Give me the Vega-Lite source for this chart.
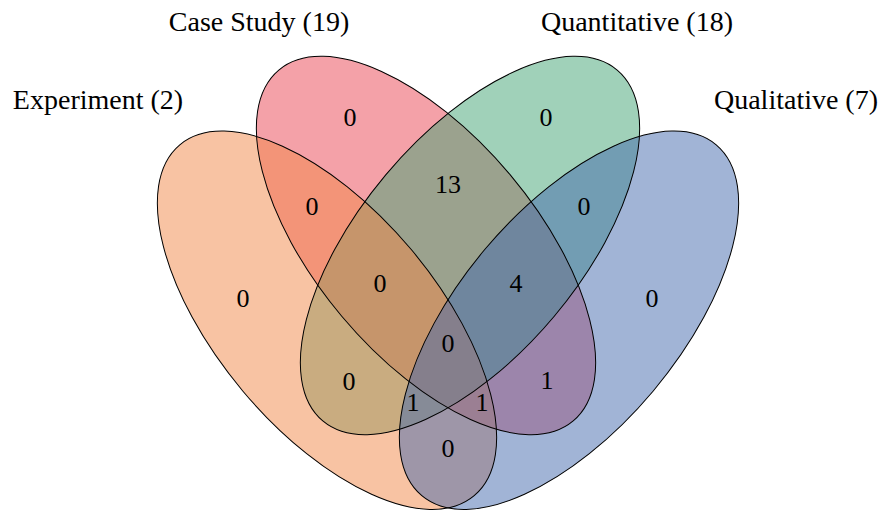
{
  "$schema": "https://vega.github.io/schema/vega-lite/v6.json",
  "width": 883,
  "height": 511,
  "autosize": {"type": "fit", "contains": "padding"},
  "padding": 0,
  "background": "white",
  "config": {"view": {"stroke": null}},
  "datasets": {
    "sets": [
      {"set": "Experiment", "cx": 327, "cy": 321.5},
      {"set": "Case Study", "cx": 426, "cy": 246.5},
      {"set": "Quantitative", "cx": 470, "cy": 246.5},
      {"set": "Qualitative", "cx": 569, "cy": 321.5}
    ],
    "titles": [
      {"label": "Experiment (2)", "lx": 98, "ly": 109},
      {"label": "Case Study (19)", "lx": 259, "ly": 31},
      {"label": "Quantitative (18)", "lx": 637, "ly": 31},
      {"label": "Qualitative (7)", "lx": 796, "ly": 109}
    ],
    "regions": [
      {"region": "Experiment only", "count": 0, "rx": 243, "ry": 300},
      {"region": "Case Study only", "count": 0, "rx": 350, "ry": 118},
      {"region": "Quantitative only", "count": 0, "rx": 546, "ry": 118},
      {"region": "Qualitative only", "count": 0, "rx": 652, "ry": 300},
      {"region": "Experiment & Case Study", "count": 0, "rx": 312, "ry": 208},
      {"region": "Case Study & Quantitative", "count": 13, "rx": 448, "ry": 186},
      {"region": "Quantitative & Qualitative", "count": 0, "rx": 584, "ry": 208},
      {"region": "Experiment & Case Study & Quantitative", "count": 0, "rx": 380, "ry": 285},
      {"region": "Case Study & Quantitative & Qualitative", "count": 4, "rx": 516, "ry": 285},
      {"region": "All four", "count": 0, "rx": 448, "ry": 345},
      {"region": "Experiment & Quantitative", "count": 0, "rx": 349, "ry": 383},
      {"region": "Case Study & Qualitative", "count": 1, "rx": 547, "ry": 382},
      {"region": "Experiment & Quantitative & Qualitative", "count": 1, "rx": 413, "ry": 405},
      {"region": "Experiment & Case Study & Qualitative", "count": 1, "rx": 482, "ry": 405},
      {"region": "Experiment & Qualitative", "count": 0, "rx": 448, "ry": 451}
    ]
  },
  "layer": [
    {
      "data": {"name": "sets"},
      "transform": [{"filter": "datum.set == 'Case Study'"}],
      "mark": {"type": "point", "filled": true, "shape": "M -229 0 A 229 110 0 1 0 229 0 A 229 110 0 1 0 -229 0 Z", "size": 4, "angle": 50, "fillOpacity": 0.5, "opacity": 1, "strokeWidth": 0},
      "encoding": {
        "x": {"field": "cx", "type": "quantitative", "scale": {"domain": [0, 883], "nice": false, "zero": false}, "axis": null},
        "y": {"field": "cy", "type": "quantitative", "scale": {"domain": [0, 511], "nice": false, "zero": false, "reverse": true}, "axis": null},
        "fill": {"field": "set", "type": "nominal", "scale": {"domain": ["Experiment", "Case Study", "Quantitative", "Qualitative"], "range": ["#F18747", "#E94351", "#41A373", "#4369AD"]}, "legend": null}
      }
    },
    {
      "data": {"name": "sets"},
      "transform": [{"filter": "datum.set == 'Quantitative'"}],
      "mark": {"type": "point", "filled": true, "shape": "M -229 0 A 229 110 0 1 0 229 0 A 229 110 0 1 0 -229 0 Z", "size": 4, "angle": 310, "fillOpacity": 0.5, "opacity": 1, "strokeWidth": 0},
      "encoding": {
        "x": {"field": "cx", "type": "quantitative"},
        "y": {"field": "cy", "type": "quantitative"},
        "fill": {"field": "set", "type": "nominal"}
      }
    },
    {
      "data": {"name": "sets"},
      "transform": [{"filter": "datum.set == 'Experiment'"}],
      "mark": {"type": "point", "filled": true, "shape": "M -229 0 A 229 110 0 1 0 229 0 A 229 110 0 1 0 -229 0 Z", "size": 4, "angle": 50, "fillOpacity": 0.5, "opacity": 1, "strokeWidth": 0},
      "encoding": {
        "x": {"field": "cx", "type": "quantitative"},
        "y": {"field": "cy", "type": "quantitative"},
        "fill": {"field": "set", "type": "nominal"}
      }
    },
    {
      "data": {"name": "sets"},
      "transform": [{"filter": "datum.set == 'Qualitative'"}],
      "mark": {"type": "point", "filled": true, "shape": "M -229 0 A 229 110 0 1 0 229 0 A 229 110 0 1 0 -229 0 Z", "size": 4, "angle": 310, "fillOpacity": 0.5, "opacity": 1, "strokeWidth": 0},
      "encoding": {
        "x": {"field": "cx", "type": "quantitative"},
        "y": {"field": "cy", "type": "quantitative"},
        "fill": {"field": "set", "type": "nominal"}
      }
    },
    {
      "data": {"name": "sets"},
      "transform": [{"filter": "datum.cx < 448"}],
      "mark": {"type": "point", "filled": false, "shape": "M -229 0 A 229 110 0 1 0 229 0 A 229 110 0 1 0 -229 0 Z", "size": 4, "angle": 50, "opacity": 1, "fill": null, "stroke": "black", "strokeWidth": 1},
      "encoding": {
        "x": {"field": "cx", "type": "quantitative"},
        "y": {"field": "cy", "type": "quantitative"}
      }
    },
    {
      "data": {"name": "sets"},
      "transform": [{"filter": "datum.cx > 448"}],
      "mark": {"type": "point", "filled": false, "shape": "M -229 0 A 229 110 0 1 0 229 0 A 229 110 0 1 0 -229 0 Z", "size": 4, "angle": 310, "opacity": 1, "fill": null, "stroke": "black", "strokeWidth": 1},
      "encoding": {
        "x": {"field": "cx", "type": "quantitative"},
        "y": {"field": "cy", "type": "quantitative"}
      }
    },
    {
      "data": {"name": "regions"},
      "mark": {"type": "text", "font": "Liberation Serif", "fontSize": 26, "color": "black", "align": "center", "baseline": "middle"},
      "encoding": {
        "x": {"field": "rx", "type": "quantitative"},
        "y": {"field": "ry", "type": "quantitative"},
        "text": {"field": "count", "type": "quantitative"}
      }
    },
    {
      "data": {"name": "titles"},
      "mark": {"type": "text", "font": "Liberation Serif", "fontSize": 28, "color": "black", "align": "center", "baseline": "alphabetic"},
      "encoding": {
        "x": {"field": "lx", "type": "quantitative"},
        "y": {"field": "ly", "type": "quantitative"},
        "text": {"field": "label", "type": "nominal"}
      }
    }
  ]
}
